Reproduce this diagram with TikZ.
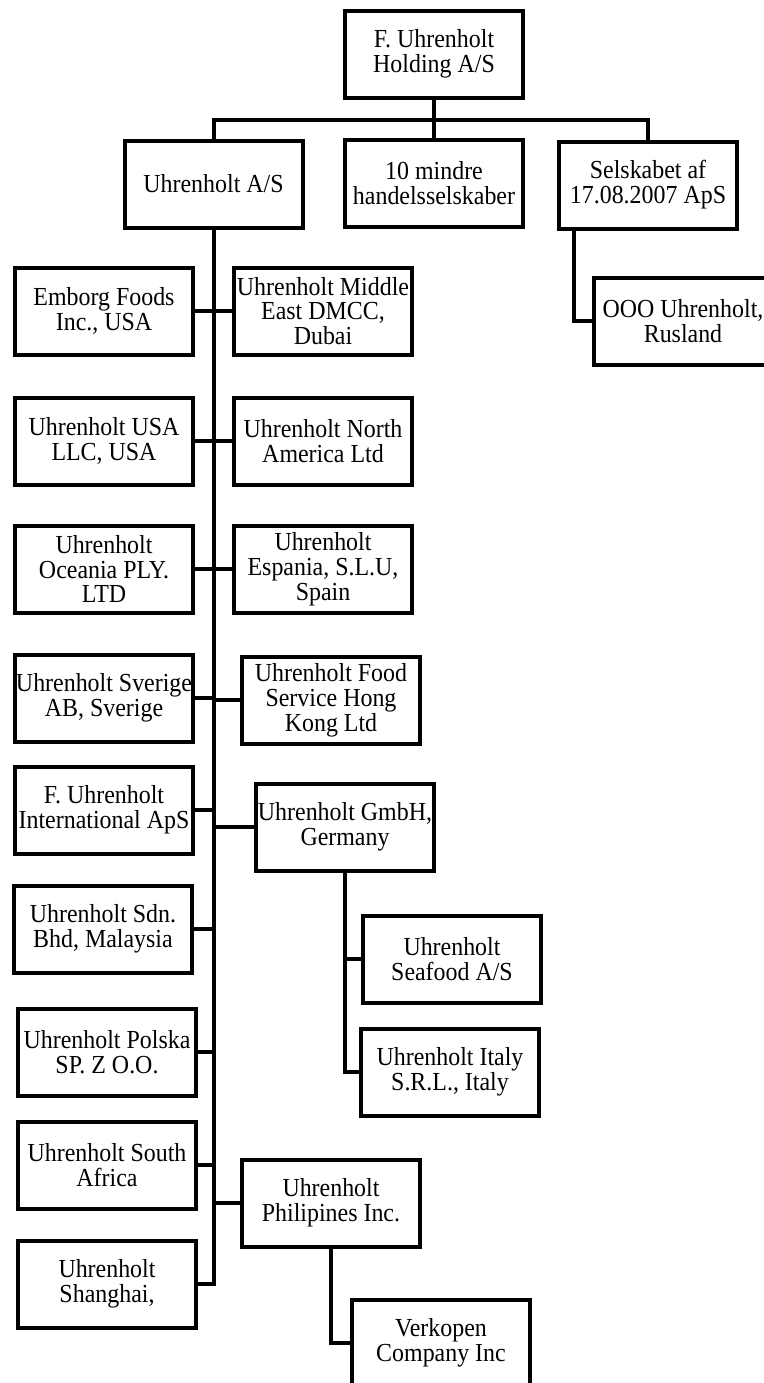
\documentclass[tikz,border=0pt]{standalone}
\usepackage{fontspec}
\setmainfont{Liberation Serif}[FakeStretch=0.92]
\usetikzlibrary{calc}
\tikzset{
  orgbox/.style={draw, line width=2pt, line join=miter, minimum width=89pt, minimum height=43.5pt,
    inner sep=0pt, align=center, font=\fontsize{13}{12.4}\selectfont},
  conn/.style={line width=2pt, line join=miter}
}
\begin{document}
\begin{tikzpicture}[x=0.5pt,y=-0.5pt]
\useasboundingbox (0,0) rectangle (764,1383);
\clip (0,0) rectangle (764,1383);
\fill[white] (0,0) rectangle (764,1383);
% top level
\node[orgbox] (top) at (434,54) {F. Uhrenholt\\Holding A/S};
\node[orgbox] (ua) at (213.5,184) {Uhrenholt A/S};
\node[orgbox] (mindre) at (434,183) {10 mindre\\handelsselskaber};
\node[orgbox] (selsk) at (648,185) {Selskabet af\\17.08.2007 ApS};
\node[orgbox] (ooo) at (683,321) {OOO Uhrenholt,\\Rusland};
% left column
\node[orgbox] (emborg) at (104,311) {Emborg Foods\\Inc., USA};
\node[orgbox] (usa) at (104,441) {Uhrenholt USA\\LLC, USA};
\node[orgbox] (oceania) at (104,569) {Uhrenholt\\Oceania PLY.\\LTD};
\node[orgbox] (sverige) at (104,698) {Uhrenholt Sverige\\AB, Sverige};
\node[orgbox] (intl) at (104,810) {F. Uhrenholt\\International ApS};
\node[orgbox] (malaysia) at (103,929) {Uhrenholt Sdn.\\Bhd, Malaysia};
\node[orgbox] (polska) at (107,1052) {Uhrenholt Polska\\SP. Z O.O.};
\node[orgbox] (safrica) at (107,1165) {Uhrenholt South\\Africa};
\node[orgbox] (shanghai) at (107,1284) {Uhrenholt\\Shanghai,};
% right column
\node[orgbox] (mideast) at (323,311) {Uhrenholt Middle\\East DMCC,\\Dubai};
\node[orgbox] (northam) at (323,441) {Uhrenholt North\\America Ltd};
\node[orgbox] (espania) at (323,569) {Uhrenholt\\Espania, S.L.U,\\Spain};
\node[orgbox] (hongkong) at (331,700) {Uhrenholt Food\\Service Hong\\Kong Ltd};
\node[orgbox] (gmbh) at (345,827) {Uhrenholt GmbH,\\Germany};
\node[orgbox] (seafood) at (452,959) {Uhrenholt\\Seafood A/S};
\node[orgbox] (italy) at (450,1072) {Uhrenholt Italy\\S.R.L., Italy};
\node[orgbox] (philip) at (331,1203) {Uhrenholt\\Philipines Inc.};
\node[orgbox] (verkopen) at (441,1343) {Verkopen\\Company Inc};
% bus
\coordinate (busy) at (0,120);
\draw[conn] (top.south) -- (top.south |- busy);
\draw[conn] (ua.north) |- (busy -| selsk.north) -- (selsk.north);
\draw[conn] (mindre.north) -- (mindre.north |- busy);
% selskabet branch
\coordinate (sk) at ($(selsk.south west)+(17,0)$);
\draw[conn] (sk) |- (ooo.west);
% trunk
\draw[conn] (ua.south) |- (shanghai.east);
\foreach \n in {emborg,usa,oceania,sverige,intl,malaysia,polska,safrica}
  \draw[conn] (\n.east) -- (\n.east -| ua.south);
\foreach \n in {mideast,northam,espania,hongkong,gmbh,philip}
  \draw[conn] (\n.west) -- (\n.west -| ua.south);
% gmbh branch
\draw[conn] (gmbh.south) |- (italy.west);
\draw[conn] (seafood.west) -- (seafood.west -| gmbh.south);
% philipines branch
\draw[conn] (philip.south) |- (verkopen.west);
\end{tikzpicture}
\end{document}
